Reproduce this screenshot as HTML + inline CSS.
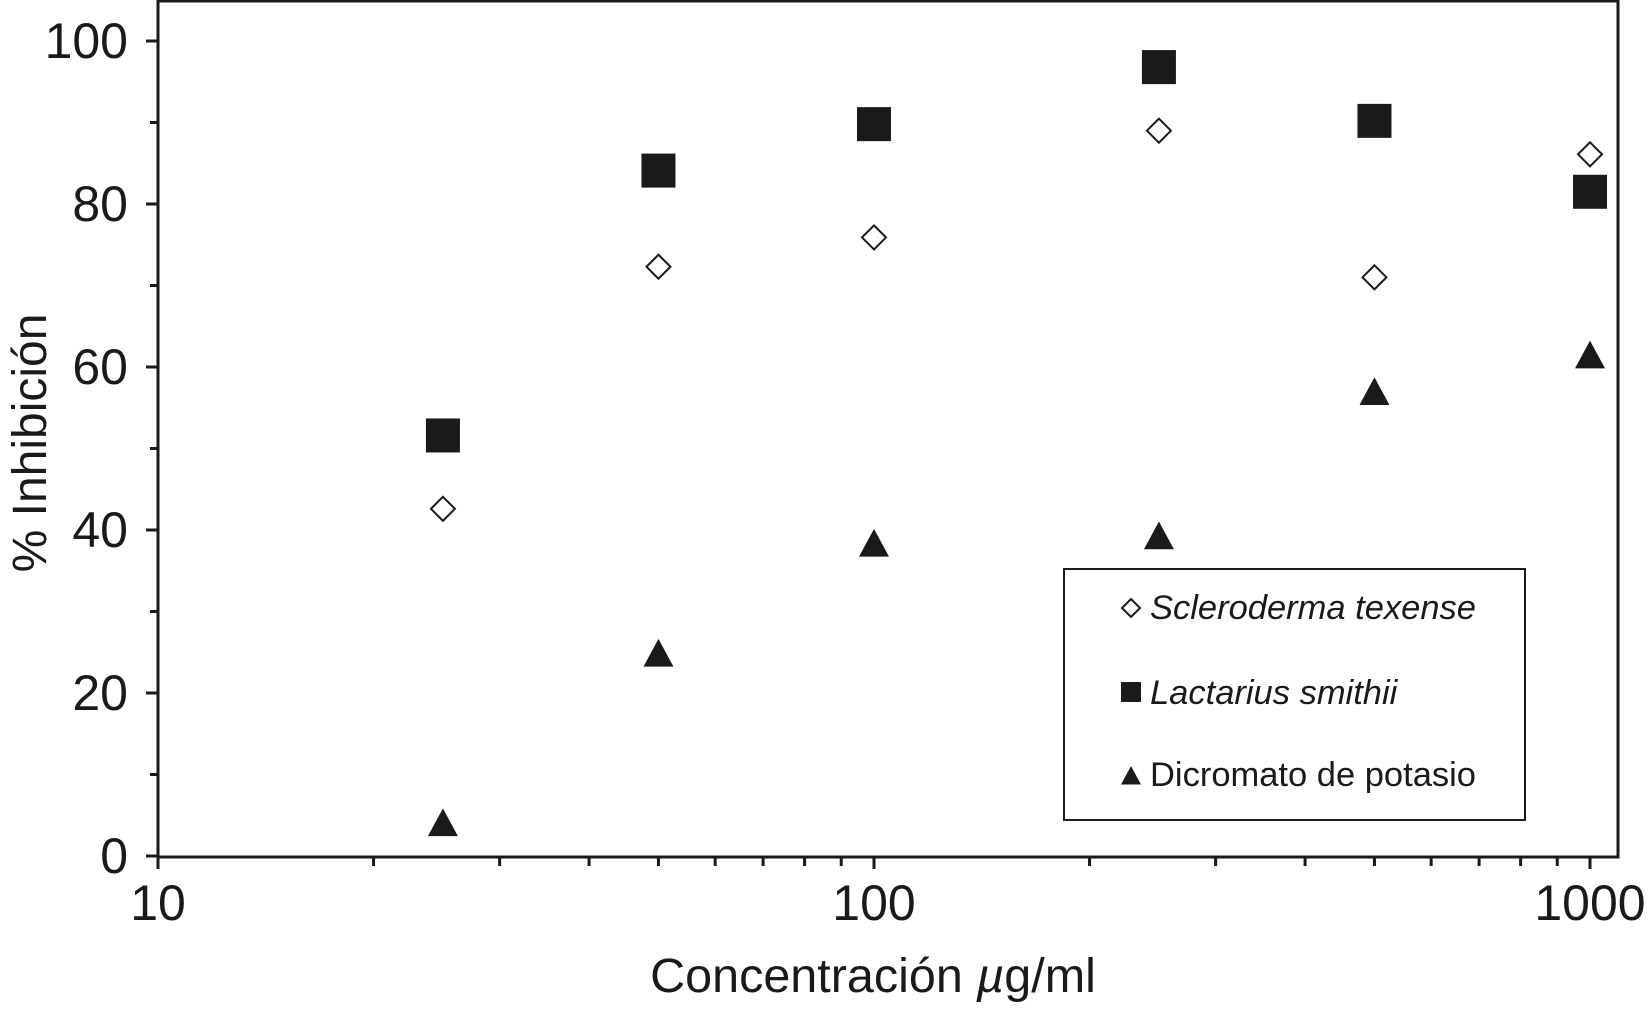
<!DOCTYPE html>
<html><head><meta charset="utf-8"><style>
html,body{margin:0;padding:0;background:#fff;}
svg{display:block;font-family:"Liberation Sans",sans-serif;}
</style></head><body>
<svg id="chart" width="1649" height="1013"></svg>
<script>
const xVals=[25,50,100,250,500,1000];
const scleroderma=[42.6,72.3,75.9,89,71,86.1];
const lactarius=[51.6,84.1,89.8,96.8,90.2,81.5];
const dicromato=[4,24.8,38.3,39.2,56.9,61.4];
const yTicks=[0,20,40,60,80,100];
const xTicks=[10,100,1000];
const L=158,R=1618,T=1,B=857;
const NS="http://www.w3.org/2000/svg";
const svg=document.getElementById('chart');
function X(v){return L+(Math.log10(v)-1)*716;}
function Y(v){return 856-v*8.15;}
function el(t,a,p){const e=document.createElementNS(NS,t);for(const k in a)e.setAttribute(k,a[k]);(p||svg).appendChild(e);return e;}
const frame=el('rect',{x:L,y:T,width:R-L,height:B-T,fill:'none',stroke:'#1a1a1a','stroke-width':3});


for(let v=0;v<=100;v+=10){
 const major=v%20===0;
 const t=el('line',{x1:L-(major?12:8),x2:L,y1:Y(v),y2:Y(v),stroke:'#1a1a1a','stroke-width':3});
 
 
}
yTicks.forEach(v=>{
 const t=el('text',{x:L-30,y:Y(v)+17,'text-anchor':'end','font-size':50,fill:'#1a1a1a'});
 t.textContent=v;
 
 
});
for(let d=10;d<=1000;d*=10){
 for(let m=1;m<=9;m++){
  const v=d*m; if(v>1000)break;
  const major=m===1;
  const t=el('line',{x1:X(v),x2:X(v),y1:B,y2:B+(major?12:9),stroke:'#1a1a1a','stroke-width':3});
  
  
 }
}
xTicks.forEach(v=>{
 const t=el('text',{x:X(v),y:920,'text-anchor':'middle','font-size':50,fill:'#1a1a1a'});
 t.textContent=v;
 
 
});
const xt=el('text',{x:873,y:992,'text-anchor':'middle','font-size':48.5,fill:'#1a1a1a'});
xt.innerHTML='Concentración <tspan font-style="italic">µ</tspan>g/ml';


const yt=el('text',{x:0,y:0,'text-anchor':'middle','font-size':48,fill:'#1a1a1a',transform:'translate(46,443) rotate(-90)'});
yt.textContent='% Inhibición';


function diamond(cx,cy,s){return el('polygon',{points:`${cx},${cy-s} ${cx+s},${cy} ${cx},${cy+s} ${cx-s},${cy}`,fill:'#fff',stroke:'#1a1a1a','stroke-width':2});}
function square(cx,cy,s){return el('rect',{x:cx-s,y:cy-s,width:2*s,height:2*s,fill:'#1a1a1a'});}
function tri(cx,cy,s){return el('polygon',{points:`${cx},${cy-s} ${cx+s},${cy+s*0.85} ${cx-s},${cy+s*0.85}`,fill:'#1a1a1a'});}
xVals.forEach((x,i)=>{
 const a=square(X(x),Y(lactarius[i]),17);
 
 
 const b=diamond(X(x),Y(scleroderma[i]),12);
 
 
 const c=tri(X(x),Y(dicromato[i]),15);
 
 
});
const lg=el('g',{});


el('rect',{x:1064,y:569,width:461,height:251,fill:'#fff',stroke:'#1a1a1a','stroke-width':2},lg);
lg.appendChild(diamond(1131,608,9));
lg.appendChild(square(1131,692,10));
lg.appendChild(tri(1131,776,10));
[['Scleroderma texense',607,true],['Lactarius smithii',692,true],['Dicromato de potasio',774,false]].forEach(([s,y,it])=>{
 const t=el('text',{x:1150,y:y+12,'font-size':34.5,fill:'#1a1a1a','font-style':it?'italic':'normal'},lg);
 t.textContent=s;
 
 
});
</script>
</body></html>
